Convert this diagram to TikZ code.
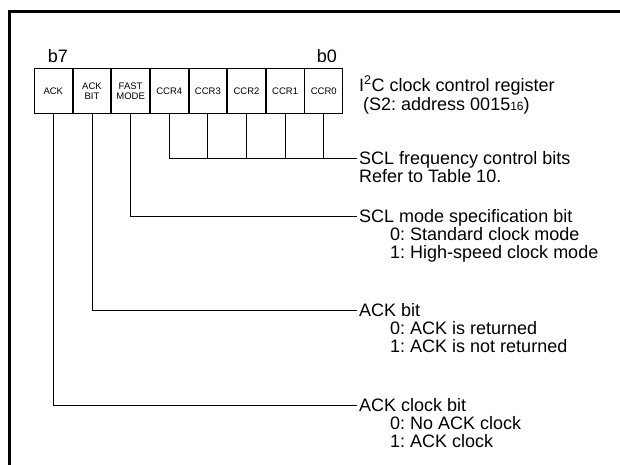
\documentclass[tikz,border=0pt]{standalone}
\usepackage{fontspec}
\setmainfont{Liberation Sans}
\frenchspacing
\begin{document}
\begin{tikzpicture}[x=1pt,y=-1pt,
  cell/.style={draw, line width=0.8pt, minimum width=37.84pt, minimum height=45pt,
    inner sep=0pt, anchor=north west, font=\fontsize{9.5}{10.5}\selectfont, align=center},
  lab/.style={font=\fontsize{18}{18}\selectfont, inner xsep=2pt, inner ysep=0pt,
    text height=14pt, text depth=2pt},
  conn/.style={line width=0.8pt}]
\useasboundingbox (0,0) rectangle (620,464);
\draw[line width=2.5pt] (9.5,480) -- (9.5,11.5) -- (640,11.5);
% register cells
\node[cell] (c7) at (34,68.3) {ACK};
\node[cell] (c6) at (c7.north east) {ACK\\BIT};
\node[cell] (c5) at (c6.north east) {FAST\\MODE};
\node[cell] (c4) at (c5.north east) {CCR4};
\node[cell] (c3) at (c4.north east) {CCR3};
\node[cell] (c2) at (c3.north east) {CCR2};
\node[cell] (c1) at (c2.north east) {CCR1};
\node[cell] (c0) at (c1.north east) {CCR0};
\node[lab, anchor=base] (b7) at (58,62) {b7};
\node[lab, anchor=base east, inner xsep=0pt] (b0) at (337,62) {b0};
% register name
\node[lab, anchor=west] (r1) at (357,85) {I\textsuperscript{2}C clock control register};
\node[lab, anchor=base west] (r2) at ([xshift=4pt,yshift=-19pt]r1.base west) {(S2: address 0015{\fontsize{12}{12}\selectfont 16})};
% labels
\node[lab, anchor=west] (t1) at (357,158) {SCL frequency control bits};
\node[lab, anchor=base west] (t1a) at ([yshift=-18pt]t1.base west) {Refer to Table 10.};
\node[lab, anchor=west] (t2) at (357,216) {SCL mode specification bit};
\node[lab, anchor=base west] (t2a) at ([xshift=31pt,yshift=-18pt]t2.base west) {0: Standard clock mode};
\node[lab, anchor=base west] (t2b) at ([yshift=-18pt]t2a.base west) {1: High-speed clock mode};
\node[lab, anchor=west] (t3) at (357,310) {ACK bit};
\node[lab, anchor=base west] (t3a) at ([xshift=31pt,yshift=-18pt]t3.base west) {0: ACK is returned};
\node[lab, anchor=base west] (t3b) at ([yshift=-18pt]t3a.base west) {1: ACK is not returned};
\node[lab, anchor=west] (t4) at (357,405) {ACK clock bit};
\node[lab, anchor=base west] (t4a) at ([xshift=31pt,yshift=-18pt]t4.base west) {0: No ACK clock};
\node[lab, anchor=base west] (t4b) at ([yshift=-18pt]t4a.base west) {1: ACK clock};
% connectors
\draw[conn] (c4.south) |- (t1.west);
\foreach \c in {c3,c2,c1,c0} \draw[conn] (\c.south) -- (\c.south |- t1.west);
\draw[conn] (c5.south) |- (t2.west);
\draw[conn] (c6.south) |- (t3.west);
\draw[conn] (c7.south) |- (t4.west);
\end{tikzpicture}
\end{document}
